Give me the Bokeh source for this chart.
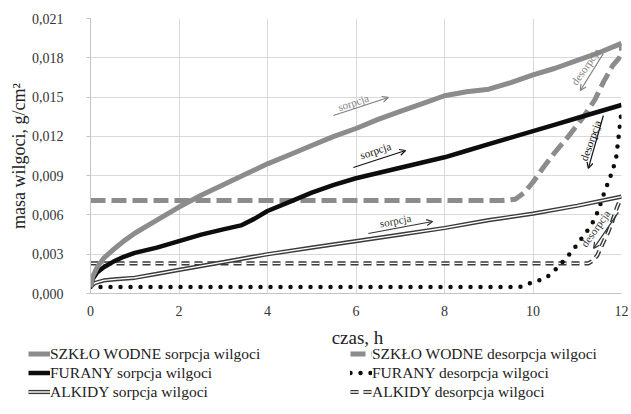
import math
from bokeh.plotting import figure
from bokeh.layouts import column
from bokeh.models import (Range1d, FixedTicker, CustomJSTickFormatter, Legend, LegendItem,
                          Label, Arrow, OpenHead)
from bokeh.embed import file_html
from bokeh.resources import INLINE

# ---------------- data ----------------
x_ticks = [0, 2, 4, 6, 8, 10, 12]
y_ticks = [0.0, 0.003, 0.006, 0.009, 0.012, 0.015, 0.018, 0.021]

szklo_sorp_t = [0, 0.05, 0.15, 0.3, 0.5, 0.75, 1, 1.5, 2, 2.5, 3, 3.5, 4, 4.5, 5, 5.5, 6,
                6.5, 7, 7.5, 8, 8.5, 9, 9.5, 10, 10.5, 11, 11.5, 12]
szklo_sorp_y = [0.0005, 0.0013, 0.0020, 0.0027, 0.0033, 0.0040, 0.0046, 0.0056, 0.0066, 0.0075,
                0.0083, 0.0091, 0.0099, 0.0106, 0.0113, 0.0120, 0.0126, 0.0133, 0.0139, 0.0145,
                0.0151, 0.0154, 0.0156, 0.0161, 0.0167, 0.0172, 0.0178, 0.0184, 0.0191]

szklo_desorp_t = [0, 9.3, 9.6, 9.8, 10.0, 10.25, 10.5, 10.8, 11.1, 11.4, 11.6, 11.8, 11.95, 12, 12]
szklo_desorp_y = [0.0071, 0.0071, 0.0072, 0.0077, 0.0085, 0.0097, 0.0108, 0.0120, 0.0133, 0.0148,
                  0.0162, 0.0174, 0.0180, 0.0185, 0.0191]

furany_sorp_t = [0, 0.05, 0.15, 0.3, 0.5, 0.75, 1, 1.5, 2, 2.5, 3, 3.4, 3.7, 4, 4.5, 5, 5.5, 6,
                 6.5, 7, 7.5, 8, 8.5, 9, 9.5, 10, 10.5, 11, 11.5, 12]
furany_sorp_y = [0.0005, 0.0011, 0.0016, 0.0020, 0.0024, 0.0028, 0.0031, 0.0035, 0.0040, 0.0045,
                 0.0049, 0.0052, 0.0057, 0.0063, 0.0070, 0.0077, 0.0083, 0.0088, 0.0092, 0.0096,
                 0.0100, 0.0104, 0.0109, 0.0114, 0.0119, 0.0124, 0.0129, 0.0134, 0.0139, 0.0144]

furany_desorp_t = [0, 9.7, 9.95, 10.3, 10.5, 10.75, 10.9, 11.05, 11.25, 11.4, 11.5, 11.6, 11.7,
                   11.8, 11.88, 11.95, 12]
furany_desorp_y = [0.0005, 0.0005, 0.0008, 0.0012, 0.0018, 0.0027, 0.0033, 0.0040, 0.0049, 0.0057,
                   0.0066, 0.0076, 0.0085, 0.0094, 0.0104, 0.0124, 0.0140]

alkidy_sorp_t = [0, 0.1, 0.3, 0.6, 1, 1.5, 2, 3, 4, 5, 6, 7, 8, 9, 10, 11, 12]
alkidy_sorp_y = [0.0005, 0.0008, 0.0010, 0.0011, 0.0012, 0.0015, 0.0018, 0.0024, 0.0030, 0.0035,
                 0.0040, 0.0045, 0.0050, 0.0056, 0.0061, 0.0067, 0.0074]

alkidy_desorp_t = [0, 11.25, 11.35, 11.45, 11.6, 11.7, 11.8, 11.9, 12]
alkidy_desorp_y = [0.0023, 0.0023, 0.0025, 0.0029, 0.0040, 0.0047, 0.0056, 0.0066, 0.0074]

labels_legend = ["SZKŁO WODNE sorpcja wilgoci", "FURANY sorpcja wilgoci", "ALKIDY sorpcja wilgoci",
                 "SZKŁO WODNE desorpcja wilgoci", "FURANY desorpcja wilgoci", "ALKIDY desorpcja wilgoci"]
x_title = "czas, h"
y_title = "masa wilgoci, g/cm²"

# annotations: text, text pos, arrow start, arrow end, angle(deg), colour
notes = [
    ("sorpcja", (5.94, 0.01459), (5.49, 0.01359), (6.73, 0.01497), 18, "#7f7f7f"),
    ("sorpcja", (6.44, 0.01092), (5.94, 0.00962), (7.12, 0.01092), 18, "#111111"),
    ("sorpcja", (6.89, 0.00557), (6.28, 0.00458), (7.73, 0.00550), 11, "#333333"),
    ("desorpcja", (11.19, 0.01733), (11.59, 0.01833), (11.07, 0.01550), 55, "#7f7f7f"),
    ("desorpcja", (11.30, 0.01168), (11.59, 0.01359), (11.25, 0.00955), 70, "#111111"),
    ("desorpcja", (11.41, 0.00496), (11.93, 0.00619), (11.37, 0.00344), 55, "#333333"),
]

GRAY = "#8c8c8c"
BLACK = "#0d0d0d"
DARK = "#3a3a3a"
FONT = "Liberation Serif"

STYLES = {
    "ss": dict(line_color=GRAY, line_width=5),
    "fs": dict(line_color=BLACK, line_width=4.5),
    "as_o": dict(line_color=DARK, line_width=4.2),
    "as_i": dict(line_color="white", line_width=1.4),
    "sd": dict(line_color=GRAY, line_width=5, line_dash="15 6"),
    "fd": dict(line_color=BLACK, line_width=4.5, line_dash="0 10", line_cap="round"),
    "ad_o": dict(line_color=DARK, line_width=4.2, line_dash="8 5"),
    "ad_i": dict(line_color="white", line_width=1.4, line_dash="8 5"),
}

p = figure(width=631, height=325, output_backend="svg", toolbar_location=None,
           x_range=Range1d(0, 12), y_range=Range1d(0, 0.021),
           min_border_left=90, min_border_right=10, min_border_top=18, min_border_bottom=32)
p.outline_line_color = None
p.frame_align = False

for ax in (p.xaxis[0], p.yaxis[0]):
    ax.major_label_text_font = FONT
    ax.major_label_text_font_size = "14px"
    ax.major_label_text_color = "#333333"
    ax.axis_line_color = "#c4c4c4"
    ax.major_tick_line_color = "#c4c4c4"
    ax.minor_tick_line_color = None
    ax.major_tick_in = 0
    ax.axis_label_text_font = FONT
    ax.axis_label_text_font_size = "18px"
    ax.axis_label_text_font_style = "normal"
    ax.axis_label_text_color = "#222222"

p.xaxis.ticker = FixedTicker(ticks=x_ticks)
p.yaxis.ticker = FixedTicker(ticks=y_ticks)
p.yaxis.formatter = CustomJSTickFormatter(code="return tick.toFixed(3).replace('.', ',');")
p.xaxis.major_tick_out = 0
p.xaxis.major_label_standoff = 12
p.yaxis.major_tick_out = 4
p.yaxis.major_label_standoff = 23
p.yaxis.axis_label = y_title
p.yaxis.axis_label_standoff = 0

p.xgrid.grid_line_color = "#d9d9d9"
p.ygrid.grid_line_color = "#d9d9d9"

# desorption curves
p.line(szklo_desorp_t, szklo_desorp_y, **STYLES["sd"])
p.line(alkidy_desorp_t, alkidy_desorp_y, **STYLES["ad_o"])
p.line(alkidy_desorp_t, alkidy_desorp_y, **STYLES["ad_i"])
p.line(furany_desorp_t, furany_desorp_y, **STYLES["fd"])
# sorption curves
p.line(alkidy_sorp_t, alkidy_sorp_y, **STYLES["as_o"])
p.line(alkidy_sorp_t, alkidy_sorp_y, **STYLES["as_i"])
p.line(furany_sorp_t, furany_sorp_y, **STYLES["fs"])
p.line(szklo_sorp_t, szklo_sorp_y, **STYLES["ss"])

for text, (tx, ty), (x0, y0), (x1, y1), ang, col in notes:
    p.add_layout(Arrow(end=OpenHead(size=6, line_color=col, line_width=1.2),
                       x_start=x0, y_start=y0, x_end=x1, y_end=y1,
                       line_color=col, line_width=1.2))
    p.add_layout(Label(x=tx, y=ty, text=text, angle=math.radians(ang), text_align="center",
                       text_baseline="middle", text_font=FONT, text_font_size="11px",
                       text_color=col))

# ---------------- x title + legend strip ----------------
lg = figure(width=631, height=89, output_backend="svg", toolbar_location=None,
            x_range=Range1d(0, 1), y_range=Range1d(0, 1),
            x_axis_location=None, y_axis_location=None, min_border=0)
lg.outline_line_color = None
lg.frame_align = False
lg.grid.visible = False
nan = float("nan")
rr = {k: lg.line([nan], [nan], **v) for k, v in STYLES.items()}

lg.add_layout(Label(x=357, y=77, x_units="screen", y_units="screen", text=x_title,
                    text_align="center", text_baseline="middle", text_font=FONT,
                    text_font_size="19px", text_color="#222222"))

leg_kw = dict(orientation="vertical", label_text_font=FONT, label_text_font_size="15.5px",
              label_text_color="#222222", glyph_width=22, glyph_height=19, label_height=19,
              label_standoff=0, spacing=0, padding=0, margin=0, border_line_alpha=0,
              background_fill_alpha=0)
leg1 = Legend(items=[LegendItem(label=labels_legend[0], renderers=[rr["ss"]]),
                     LegendItem(label=labels_legend[1], renderers=[rr["fs"]]),
                     LegendItem(label=labels_legend[2], renderers=[rr["as_o"], rr["as_i"]])],
              location=(28, 13), **leg_kw)
leg2 = Legend(items=[LegendItem(label=labels_legend[3], renderers=[rr["sd"]]),
                     LegendItem(label=labels_legend[4], renderers=[rr["fd"]]),
                     LegendItem(label=labels_legend[5], renderers=[rr["ad_o"], rr["ad_i"]])],
              location=(350, 13), **leg_kw)
lg.add_layout(leg1)
lg.add_layout(leg2)

layout = column(p, lg, spacing=0)
open("out.html", "w").write(file_html(layout, INLINE))
